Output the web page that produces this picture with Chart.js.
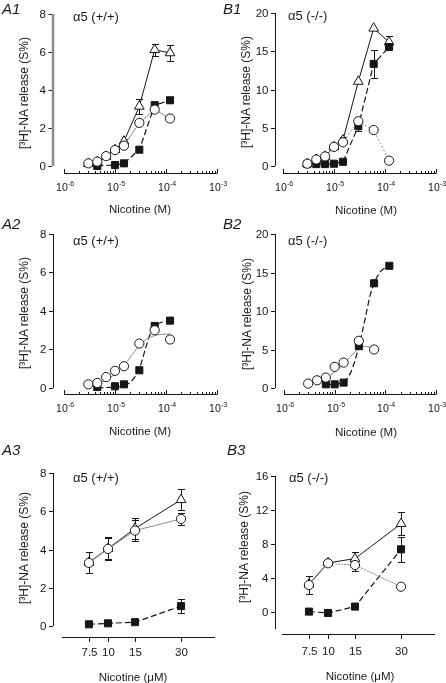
<!DOCTYPE html>
<html><head><meta charset="utf-8">
<script src="https://cdn.jsdelivr.net/npm/chart.js@4"></script>
<style>
html,body{margin:0;padding:0;background:#fff;}
#wrap{position:relative;width:446px;height:683px;overflow:hidden;font-family:"Liberation Sans",Arial,sans-serif;color:#1a1a1a;}
canvas{position:absolute;left:0;top:0;}
.t{position:absolute;white-space:nowrap;line-height:1;}
.pl{font-style:italic;font-size:15px;transform:translate(0,-50%);}
.g{font-size:13px;transform:translate(0,-50%);}
.xt{font-size:11.5px;transform:translate(-50%,-50%);}
.yt{font-size:12px;transform:translate(-50%,-50%) rotate(-90deg);}
</style></head><body><div id="wrap">
<canvas id="cA1" width="446" height="683"></canvas>
<canvas id="cB1" width="446" height="683"></canvas>
<canvas id="cA2" width="446" height="683"></canvas>
<canvas id="cB2" width="446" height="683"></canvas>
<canvas id="cA3" width="446" height="683"></canvas>
<canvas id="cB3" width="446" height="683"></canvas>

<div class="t pl" style="left:2px;top:8px">A1</div>
<div class="t pl" style="left:223px;top:8px">B1</div>
<div class="t pl" style="left:2px;top:223px">A2</div>
<div class="t pl" style="left:223px;top:223px">B2</div>
<div class="t pl" style="left:2px;top:449px">A3</div>
<div class="t pl" style="left:227px;top:449px">B3</div>

<div class="t g" style="left:73px;top:16px">α5 (+/+)</div>
<div class="t g" style="left:288px;top:15px">α5 (-/-)</div>
<div class="t g" style="left:73px;top:240px">α5 (+/+)</div>
<div class="t g" style="left:288px;top:240px">α5 (-/-)</div>
<div class="t g" style="left:73px;top:477px">α5 (+/+)</div>
<div class="t g" style="left:289px;top:477px">α5 (-/-)</div>

<div class="t yt" style="left:24px;top:93px">[³H]-NA release (S%)</div>
<div class="t yt" style="left:246px;top:92px">[³H]-NA release (S%)</div>
<div class="t yt" style="left:24px;top:313px">[³H]-NA release (S%)</div>
<div class="t yt" style="left:247px;top:314px">[³H]-NA release (S%)</div>
<div class="t yt" style="left:24px;top:548px">[³H]-NA release (S%)</div>
<div class="t yt" style="left:244px;top:547px">[³H]-NA release (S%)</div>

<div class="t xt" style="left:140px;top:210px">Nicotine (M)</div>
<div class="t xt" style="left:366px;top:211px">Nicotine (M)</div>
<div class="t xt" style="left:140px;top:432px">Nicotine (M)</div>
<div class="t xt" style="left:366px;top:433px">Nicotine (M)</div>
<div class="t xt" style="left:133px;top:678px">Nicotine (μM)</div>
<div class="t xt" style="left:360px;top:677px">Nicotine (μM)</div>
</div>
<script>
// ---------- data ----------
const concM = [3e-6, 4.5e-6, 6.7e-6, 1e-5, 1.5e-5, 3e-5, 6e-5, 1.2e-4];
const concA1Square = [4.5e-6, 1e-5, 1.5e-5, 3e-5, 6e-5, 1.2e-4];
const concB2Circle = [3e-6, 4.5e-6, 6.7e-6, 1e-5, 1.5e-5, 3e-5, 6e-5];
const concB2Square = [6.7e-6, 1e-5, 1.5e-5, 3e-5, 6e-5, 1.2e-4];
const concUM = [7.5, 10, 15, 30];

const logTickValues = [1e-6, 1e-5, 1e-4, 1e-3];
const logTickExp = ['-6', '-5', '-4', '-3'];
const umTickLabels = ['7.5', '10', '15', '30'];
const yTicksA = [0, 2, 4, 6, 8];
const yTicksB12 = [0, 5, 10, 15, 20];
const yTicksB3 = [0, 4, 8, 12, 16];

// A1
const a1Circle = [0.14, 0.23, 0.52, 0.84, 1.07, 2.27, 2.97, 2.50];
const a1Triangle = [0.12, 0.22, 0.50, 0.85, 1.30, 3.14, 6.12, 5.95];
const a1TriangleErr = [0, 0, 0, 0, 0.1, 0.4, 0.32, 0.43];
const a1Square = [0.0, 0.05, 0.14, 0.86, 3.2, 3.46];
const a1SquareErr = [0, 0, 0, 0, 0.15, 0.12];
// B1
const b1Circle = [0.3, 0.85, 1.25, 2.5, 3.1, 5.85, 4.7, 0.7];
const b1CircleErr = [0, 0, 0, 0, 0, 0.3, 0, 0];
const b1Triangle = [0.3, 0.85, 1.25, 2.5, 3.4, 11.05, 18.0, 16.2];
const b1TriangleErr = [0, 0, 0, 0, 0.4, 0, 0, 0.75];
const b1Square = [0.25, 0.25, 0.25, 0.3, 0.55, 5.2, 13.35, 15.55];
const b1SquareErr = [0, 0, 0, 0, 0, 0.6, 1.8, 0.3];
// A2 (points + fitted curves)
const a2Circle = [0.19, 0.26, 0.57, 0.89, 1.13, 2.31, 3.0, 2.52];
const a2Square = [0.05, 0.09, 0.19, 0.92, 3.22, 3.5];
const a2CircleFitX = [3e-6, 5e-6, 7e-6, 1e-5, 1.5e-5, 2e-5, 3e-5, 4e-5, 6e-5, 8e-5, 1.2e-4];
const a2CircleFitY = [0.12, 0.27, 0.45, 0.72, 1.15, 1.6, 2.2, 2.5, 2.72, 2.78, 2.8];
const a2SquareFitX = [4.5e-6, 1e-5, 1.5e-5, 2e-5, 2.5e-5, 3e-5, 3.5e-5, 4e-5, 5e-5, 6e-5, 8e-5, 1.2e-4];
const a2SquareFitY = [0.02, 0.04, 0.12, 0.3, 0.6, 1.0, 1.55, 2.1, 2.85, 3.2, 3.4, 3.48];
// B2
const b2Circle = [0.57, 1.0, 1.35, 2.74, 3.3, 6.13, 5.0];
const b2Square = [0.48, 0.48, 0.7, 5.43, 13.6, 15.87];
const b2CircleFitX = [3e-6, 5e-6, 7e-6, 1e-5, 1.5e-5, 2e-5, 3e-5, 4e-5, 6e-5];
const b2CircleFitY = [0.55, 0.9, 1.35, 2.1, 3.1, 4.0, 5.1, 5.4, 5.2];
const b2SquareFitX = [6.7e-6, 1e-5, 1.5e-5, 2e-5, 2.5e-5, 3e-5, 4e-5, 5e-5, 6e-5, 8e-5, 1.2e-4];
const b2SquareFitY = [0.45, 0.48, 0.8, 1.8, 3.5, 5.4, 9.0, 12.0, 13.6, 15.1, 15.85];
// A3
const a3Circle = [3.3, 4.03, 4.99, 5.6];
const a3CircleErr = [0.55, 0.55, 0.55, 0.3];
const a3Triangle = [3.32, 4.05, 5.1, 6.6];
const a3TriangleErr = [0, 0.6, 0.55, 0.55];
const a3Square = [0.09, 0.14, 0.2, 1.04];
const a3SquareErr = [0.04, 0.04, 0.05, 0.37];
// B3
const b3Circle = [3.2, 5.75, 5.55, 3.0];
const b3CircleErr = [1.1, 0.15, 0.75, 0.3];
const b3Triangle = [3.3, 5.8, 6.3, 10.4];
const b3TriangleErr = [0, 0, 0.8, 1.35];
const b3Square = [0.08, -0.08, 0.67, 7.39];
const b3SquareErr = [0, 0, 0, 1.45];

// ---------- helpers ----------
const FONT = '"Liberation Sans", Arial, sans-serif';
const INK = '#161616';
const pts = (xs, ys) => xs.map((x, i) => ({x, y: ys[i]}));

function circles(xs, ys, errs, dash, showLine = true) {
  return {data: pts(xs, ys), errs, showLine, pointStyle: 'circle', pointRadius: 4.6,
    pointBackgroundColor: '#fff', pointBorderColor: INK, pointBorderWidth: 1,
    borderColor: '#8a8a8a', borderWidth: 1, borderDash: dash || [], clip: false};
}
function triangles(xs, ys, errs) {
  return {data: pts(xs, ys), errs, showLine: true, pointStyle: 'triangle', pointRadius: 5.6,
    pointBackgroundColor: '#fff', pointBorderColor: INK, pointBorderWidth: 1,
    borderColor: INK, borderWidth: 1, clip: false};
}
function squares(xs, ys, errs, showLine = true, errColor) {
  return {data: pts(xs, ys), errs, errColor, showLine, pointStyle: 'rect', pointRadius: 5,
    pointBackgroundColor: INK, pointBorderColor: INK, pointBorderWidth: 1,
    borderColor: INK, borderWidth: 1.2, borderDash: [6, 3], clip: false};
}
function fit(xs, ys, color, dash, width) {
  return {data: pts(xs, ys), showLine: true, pointRadius: 0, borderColor: color,
    borderWidth: width, borderDash: dash, cubicInterpolationMode: 'monotone', clip: false};
}

const errPlugin = {
  id: 'errBars',
  beforeDatasetsDraw(chart) {
    const ctx = chart.ctx, ys = chart.scales.y;
    chart.data.datasets.forEach((ds, di) => {
      if (!ds.errs) return;
      const meta = chart.getDatasetMeta(di);
      ctx.save();
      ctx.strokeStyle = ds.errColor || INK; ctx.lineWidth = 1;
      ds.errs.forEach((e, i) => {
        if (!e) return;
        const x = Math.round(meta.data[i].x) + 0.5, v = ds.data[i].y;
        const t = Math.round(ys.getPixelForValue(v + e)) + 0.5;
        const b = Math.round(ys.getPixelForValue(v - e)) + 0.5;
        ctx.beginPath();
        ctx.moveTo(x, t); ctx.lineTo(x, b);
        ctx.moveTo(x - 3.5, t); ctx.lineTo(x + 3.5, t);
        ctx.moveTo(x - 3.5, b); ctx.lineTo(x + 3.5, b);
        ctx.stroke();
      });
      ctx.restore();
    });
  }
};

const axesPlugin = {
  id: 'paperAxes',
  beforeDatasetsDraw(chart, args, o) {
    const ctx = chart.ctx, xs = chart.scales.x, ys = chart.scales.y, ca = chart.chartArea;
    ctx.save();
    // y axis
    const yx = o.yAxisX;
    ctx.strokeStyle = o.yColor || INK; ctx.lineWidth = o.yWidth || 1;
    ctx.beginPath();
    ctx.moveTo(yx, ys.getPixelForValue(o.yFrom));
    ctx.lineTo(yx, ys.getPixelForValue(o.yTo));
    ctx.stroke();
    ctx.strokeStyle = INK; ctx.lineWidth = 1;
    ctx.fillStyle = INK; ctx.font = '11.5px ' + FONT;
    ctx.textAlign = 'right'; ctx.textBaseline = 'middle';
    o.yTicks.forEach(v => {
      const py = Math.round(ys.getPixelForValue(v)) + 0.5;
      ctx.beginPath(); ctx.moveTo(yx - 4.5, py); ctx.lineTo(yx - (o.yWidth || 1) / 2, py); ctx.stroke();
      ctx.fillText(String(v), yx - 7, py + 0.5);
    });
    // x axis
    const by = Math.round(ca.bottom) + 0.5;
    ctx.beginPath(); ctx.moveTo(ca.left, by); ctx.lineTo(ca.right, by); ctx.stroke();
    if (o.log) {
      const majors = o.xTicks;
      majors.forEach((m, k) => {
        const px = Math.round(xs.getPixelForValue(m)) + 0.5;
        ctx.beginPath(); ctx.moveTo(px, by); ctx.lineTo(px, by - 4.5); ctx.stroke();
        if (k < majors.length - 1) {
          for (let j = 2; j <= 9; j++) {
            const qx = Math.round(xs.getPixelForValue(m * j)) + 0.5;
            ctx.beginPath(); ctx.moveTo(qx, by); ctx.lineTo(qx, by - 2.5); ctx.stroke();
          }
        }
        // label 10^exp
        ctx.font = '10.5px ' + FONT;
        const w1 = ctx.measureText('10').width;
        ctx.font = '7px ' + FONT;
        const w2 = ctx.measureText(o.xExp[k]).width;
        const left = px - (w1 + w2) / 2 + 0.5;
        ctx.textAlign = 'left'; ctx.textBaseline = 'middle';
        ctx.font = '10.5px ' + FONT;
        ctx.fillText('10', left, by + o.labelDy);
        ctx.font = '7px ' + FONT;
        ctx.fillText(o.xExp[k], left + w1 + 0.3, by + o.labelDy - 4);
      });
    } else {
      ctx.font = '11.5px ' + FONT; ctx.textAlign = 'center'; ctx.textBaseline = 'middle';
      o.xTicks.forEach((v, k) => {
        const px = Math.round(xs.getPixelForValue(v)) + 0.5;
        ctx.beginPath(); ctx.moveTo(px, by); ctx.lineTo(px, by + 4.5); ctx.stroke();
        ctx.fillText(o.xLabels[k], px, by + o.labelDy);
      });
    }
    ctx.restore();
  }
};

function makeChart(id, area, xScale, yMin, yMax, datasets, axes) {
  new Chart(document.getElementById(id), {
    type: 'scatter',
    data: {datasets},
    plugins: [axesPlugin, errPlugin],
    options: {
      responsive: false, animation: false, events: [], devicePixelRatio: 1,
      layout: {padding: {left: area[0], right: 446 - area[1], top: area[2], bottom: 683 - area[3]}},
      scales: {
        x: Object.assign({display: false}, xScale),
        y: {type: 'linear', display: false, min: yMin, max: yMax}
      },
      plugins: {legend: {display: false}, tooltip: {enabled: false}, paperAxes: axes}
    }
  });
}

const logX = {type: 'logarithmic', min: 1e-6, max: 1e-3};
const umX = {type: 'logarithmic', min: 5, max: 50};

// A1
makeChart('cA1', [64, 217, 14, 173], logX, -0.368, 8, [
  circles(concM, a1Circle, null, []),
  squares(concA1Square, a1Square, a1SquareErr, true, '#7a7a7a'),
  triangles(concM, a1Triangle, a1TriangleErr)
], {yAxisX: 53, yFrom: 0, yTo: 8, yTicks: yTicksA, yColor: '#8c8c8c', yWidth: 2.5,
    log: true, xTicks: logTickValues, xExp: logTickExp, labelDy: 15});
// B1
makeChart('cB1', [283, 436, 13, 173], logX, -0.915, 20, [
  circles(concM, b1Circle, b1CircleErr, [2, 2]),
  squares(concM, b1Square, b1SquareErr),
  triangles(concM, b1Triangle, b1TriangleErr)
], {yAxisX: 275.5, yFrom: 0, yTo: 20, yTicks: yTicksB12,
    log: true, xTicks: logTickValues, xExp: logTickExp, labelDy: 15});
// A2
makeChart('cA2', [64, 217, 234, 394], logX, -0.312, 8, [
  circles(concM, a2Circle, null, [], false),
  squares(concA1Square, a2Square, null, false),
  fit(a2CircleFitX, a2CircleFitY, '#8a8a8a', [], 1),
  fit(a2SquareFitX, a2SquareFitY, INK, [6, 3], 1.2)
], {yAxisX: 53.5, yFrom: 0, yTo: 8, yTicks: yTicksA,
    log: true, xTicks: logTickValues, xExp: logTickExp, labelDy: 15});
// B2
makeChart('cB2', [284, 436, 234, 394], logX, -0.779, 20, [
  circles(concB2Circle, b2Circle, null, [], false),
  squares(concB2Square, b2Square, null, false),
  fit(b2CircleFitX, b2CircleFitY, '#8a8a8a', [], 1),
  fit(b2SquareFitX, b2SquareFitY, INK, [6, 3], 1.2)
], {yAxisX: 275.5, yFrom: 0, yTo: 20, yTicks: yTicksB12,
    log: true, xTicks: logTickValues, xExp: logTickExp, labelDy: 15});
// A3
makeChart('cA3', [62, 215, 473, 637], umX, -0.575, 8, [
  circles(concUM, a3Circle, a3CircleErr, []),
  squares(concUM, a3Square, a3SquareErr),
  triangles(concUM, a3Triangle, a3TriangleErr)
], {yAxisX: 53.5, yFrom: 0, yTo: 8, yTicks: yTicksA,
    log: false, xTicks: concUM, xLabels: umTickLabels, labelDy: 15});
// B3
makeChart('cB3', [282, 435, 476, 634], umX, -2.55, 16, [
  circles(concUM, b3Circle, b3CircleErr, [2, 1]),
  squares(concUM, b3Square, b3SquareErr),
  triangles(concUM, b3Triangle, b3TriangleErr)
], {yAxisX: 275.5, yFrom: -2, yTo: 16, yTicks: yTicksB3,
    log: false, xTicks: concUM, xLabels: umTickLabels, labelDy: 17});
</script>
</body></html>
